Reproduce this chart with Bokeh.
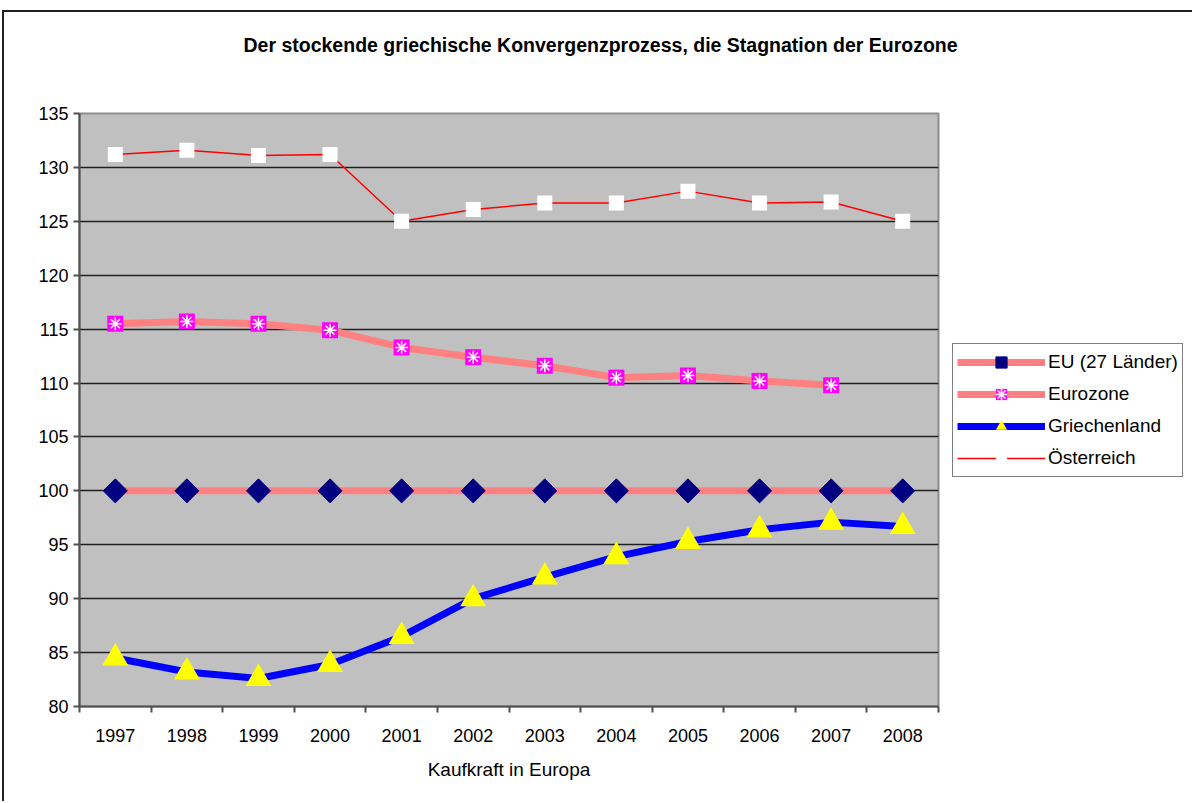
import numpy as np
from bokeh.plotting import figure
from bokeh.models import (Range1d, FixedTicker, Legend, LegendItem, Title,
                          ColumnDataSource)
from bokeh.embed import file_html
from bokeh.resources import INLINE

years = ["1997", "1998", "1999", "2000", "2001", "2002", "2003", "2004",
         "2005", "2006", "2007", "2008"]
eu27 = [100, 100, 100, 100, 100, 100, 100, 100, 100, 100, 100, 100]
eurozone = [115.5, 115.7, 115.5, 114.9, 113.3, 112.4, 111.6, 110.5, 110.7,
            110.2, 109.8, np.nan]
griechenland = [84.5, 83.2, 82.6, 83.9, 86.5, 90.0, 92.0, 93.9, 95.3, 96.4,
                97.1, 96.7]
oesterreich = [131.2, 131.6, 131.1, 131.2, 125.0, 126.1, 126.7, 126.7, 127.8,
               126.7, 126.8, 125.0]
y_ticks = [80, 85, 90, 95, 100, 105, 110, 115, 120, 125, 130, 135]

title_text = "Der stockende griechische Konvergenzprozess, die Stagnation der Eurozone"
x_title = "Kaufkraft in Europa"
series_names = ["EU (27 Länder)", "Eurozone", "Griechenland", "Österreich"]

FONT = "Liberation Sans"

xpos = [i + 0.5 for i in range(len(years))]
src = ColumnDataSource(dict(x=xpos, eu=eu27, ez=eurozone, gr=griechenland,
                            at=oesterreich))

p = figure(frame_width=859, frame_height=593, output_backend="svg",
           toolbar_location=None, title=None,
           x_range=Range1d(0, len(years)), y_range=Range1d(y_ticks[0], y_ticks[-1]),
           min_border_left=75, min_border_right=0, min_border_top=101,
           min_border_bottom=95)
p.styles = {"border-top": "2px solid #202020", "border-left": "2px solid #202020",
            "margin-top": "10px", "margin-left": "2px"}
p.background_fill_color = "#C0C0C0"
p.border_fill_color = "white"
p.outline_line_color = "#8C8C8C"
p.outline_line_width = 2

# spacer between frame and title, then title
p.add_layout(Title(text=" ", text_font_size="10px", standoff=35), "above")
p.add_layout(Title(text=title_text, align="left", offset=164, standoff=20,
                   text_font=FONT, text_font_size="19.5px",
                   text_font_style="bold", text_color="black"), "above")

# axes
xa = p.xaxis[0]
xa.ticker = FixedTicker(ticks=xpos, minor_ticks=list(range(len(years) + 1)))
xa.major_label_overrides = {x: y for x, y in zip(xpos, years)}
xa.major_tick_out = 0
xa.major_tick_in = 0
xa.minor_tick_out = 6
xa.minor_tick_in = 0
xa.minor_tick_line_color = "#505050"
xa.minor_tick_line_width = 2
xa.axis_line_color = "#505050"
xa.axis_line_width = 2
xa.major_label_standoff = 16
xa.major_label_text_font = FONT
xa.major_label_text_font_size = "18px"
xa.major_label_text_color = "black"
xa.axis_label = x_title
xa.axis_label_text_font = FONT
xa.axis_label_text_font_size = "19px"
xa.axis_label_text_font_style = "normal"
xa.axis_label_text_color = "black"
xa.axis_label_standoff = 14

ya = p.yaxis[0]
ya.ticker = FixedTicker(ticks=y_ticks, minor_ticks=[])
ya.major_tick_out = 6
ya.major_tick_in = 0
ya.major_tick_line_color = "#505050"
ya.major_tick_line_width = 2
ya.axis_line_color = "#505050"
ya.axis_line_width = 2
ya.major_label_standoff = 5
ya.major_label_text_font = FONT
ya.major_label_text_font_size = "18px"
ya.major_label_text_color = "black"

p.xgrid.grid_line_color = None
p.ygrid.ticker = FixedTicker(ticks=y_ticks[1:-1])
p.ygrid.grid_line_color = "#202020"
p.ygrid.grid_line_width = 1.3

# series
eu_line = p.line("x", "eu", source=src, line_color="#FF8080", line_width=7)
eu_mark = p.scatter("x", "eu", source=src, marker="square", angle=np.pi / 4,
                    size=17, fill_color="#000080", line_color="#000080")

ez_line = p.line("x", "ez", source=src, line_color="#FF8080", line_width=7)
ez_sq = p.scatter("x", "ez", source=src, marker="square", size=16,
                  fill_color="#FF00FF", line_color=None)
ez_ast = p.scatter("x", "ez", source=src, marker="asterisk", size=13,
                   line_color="white", line_width=1.5)

gr_line = p.line("x", "gr", source=src, line_color="#0000FF", line_width=7)
gr_mark = p.scatter("x", "gr", source=src, marker="triangle", size=26,
                    fill_color="#FFFF00", line_color=None)

at_line = p.line("x", "at", source=src, line_color="#FF0000", line_width=1.5)
at_mark = p.scatter("x", "at", source=src, marker="square", size=15,
                    fill_color="white", line_color=None)

legend = Legend(items=[
    LegendItem(label=series_names[0], renderers=[eu_line, eu_mark]),
    LegendItem(label=series_names[1], renderers=[ez_line, ez_sq, ez_ast]),
    LegendItem(label=series_names[2], renderers=[gr_line, gr_mark]),
    LegendItem(label=series_names[3], renderers=[at_line, at_mark]),
], location="center_left")
legend.glyph_width = 88
legend.glyph_height = 28
legend.label_height = 28
legend.spacing = 4
legend.padding = 4
legend.margin = 14
legend.label_standoff = 3
legend.label_text_font = FONT
legend.label_text_font_size = "19px"
legend.label_text_color = "black"
legend.border_line_color = "black"
legend.border_line_width = 1
legend.background_fill_color = "white"
legend.background_fill_alpha = 1
p.add_layout(legend, "right")

open("out.html", "w").write(file_html(p, INLINE))
